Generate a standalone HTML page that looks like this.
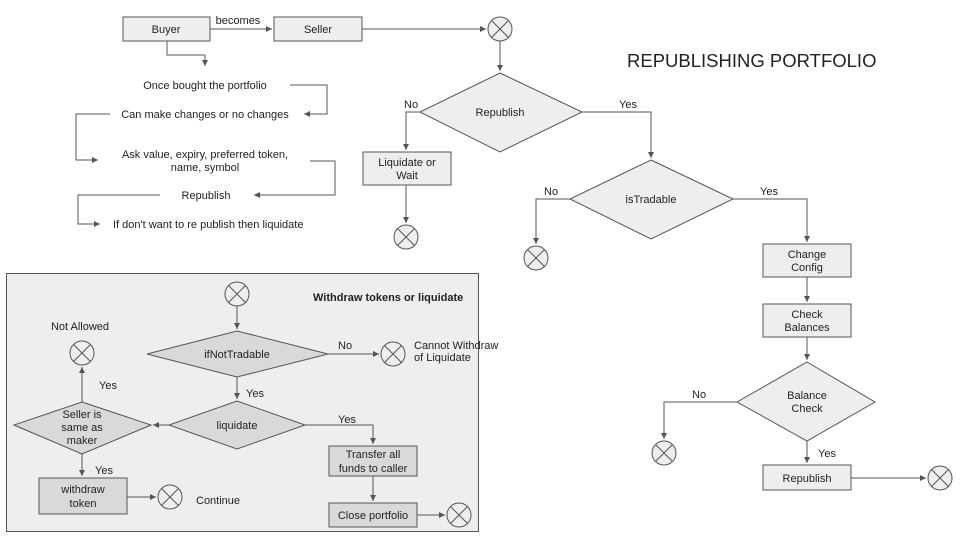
<!DOCTYPE html>
<html><head><meta charset="utf-8"><style>
html,body{margin:0;padding:0;background:#fff;width:960px;height:540px;overflow:hidden}
svg{display:block}
text{font-family:"Liberation Sans",Arial,sans-serif;font-size:11px;fill:#222}
</style></head><body>
<svg width="960" height="540" viewBox="0 0 960 540" xmlns="http://www.w3.org/2000/svg">
<defs>
<marker id="a" markerWidth="8" markerHeight="8" refX="6" refY="3" orient="auto" markerUnits="userSpaceOnUse"><path d="M0,0 L6,3 L0,6 z" fill="#555"/></marker>
<g id="c"><circle r="12" fill="#eee" stroke="#555" stroke-width="1"/><path d="M-8.5,-8.5L8.5,8.5M8.5,-8.5L-8.5,8.5" stroke="#555" stroke-width="1"/></g>
</defs>
<g fill="none" stroke="#555" stroke-width="1">
<path d="M210,29H272" marker-end="url(#a)"/>
<path d="M362,29H486" marker-end="url(#a)"/>
<path d="M167,41V55H205V66" marker-end="url(#a)"/>
<path d="M290,85H327V114H304" marker-end="url(#a)"/>
<path d="M110,114H76V160H98" marker-end="url(#a)"/>
<path d="M310,161H335V195H254" marker-end="url(#a)"/>
<path d="M160,195H78V224H100" marker-end="url(#a)"/>
<path d="M500,41V71" marker-end="url(#a)"/>
<path d="M420,112H406V150" marker-end="url(#a)"/>
<path d="M406,185V223" marker-end="url(#a)"/>
<path d="M582,112H651V158" marker-end="url(#a)"/>
<path d="M570,199H536V244" marker-end="url(#a)"/>
<path d="M733,199H807V242" marker-end="url(#a)"/>
<path d="M807,277V302" marker-end="url(#a)"/>
<path d="M807,337V360" marker-end="url(#a)"/>
<path d="M737,402H664V439" marker-end="url(#a)"/>
<path d="M807,441V463" marker-end="url(#a)"/>
<path d="M851,478H926" marker-end="url(#a)"/>
</g>
<rect x="123" y="17" width="87" height="24" fill="#eee" stroke="#555"/>
<rect x="274" y="17" width="88" height="24" fill="#eee" stroke="#555"/>
<rect x="363" y="152" width="88" height="33" fill="#eee" stroke="#555"/>
<rect x="763" y="244" width="88" height="33" fill="#eee" stroke="#555"/>
<rect x="763" y="304" width="88" height="33" fill="#eee" stroke="#555"/>
<rect x="763" y="465" width="88" height="25" fill="#eee" stroke="#555"/>
<polygon points="500,73 582,112 500,152 420,112" fill="#eee" stroke="#555"/>
<polygon points="651,160 733,199 651,239 570,199" fill="#eee" stroke="#555"/>
<polygon points="807,362 875,402 807,441 737,402" fill="#eee" stroke="#555"/>
<use href="#c" x="500" y="29"/><use href="#c" x="406" y="237"/><use href="#c" x="536" y="258"/><use href="#c" x="664" y="453"/><use href="#c" x="940" y="478"/>
<g text-anchor="middle">
<text x="166" y="33">Buyer</text><text x="318" y="33">Seller</text><text x="238" y="24">becomes</text>
<text x="205" y="89">Once bought the portfolio</text>
<text x="205" y="118">Can make changes or no changes</text>
<text x="205" y="158">Ask value, expiry, preferred token,</text><text x="205" y="171">name, symbol</text>
<text x="206" y="199">Republish</text>
<text x="500" y="116">Republish</text>
<text x="407" y="166">Liquidate or</text><text x="407" y="179">Wait</text>
<text x="651" y="203">isTradable</text>
<text x="807" y="258">Change</text><text x="807" y="271">Config</text>
<text x="807" y="318">Check</text><text x="807" y="331">Balances</text>
<text x="807" y="399">Balance</text><text x="807" y="412">Check</text>
<text x="807" y="482">Republish</text>
</g>
<text x="113" y="228">If don't want to re publish then liquidate</text>
<text x="404" y="108">No</text><text x="619" y="108">Yes</text>
<text x="544" y="195">No</text><text x="760" y="195">Yes</text>
<text x="692" y="398">No</text><text x="818" y="457">Yes</text>
<text x="627" y="67" style="font-size:18.5px">REPUBLISHING PORTFOLIO</text>
<rect x="6.5" y="273.5" width="472" height="258" fill="#eee" stroke="#555"/>
<g fill="none" stroke="#555" stroke-width="1">
<path d="M237,306V329" marker-end="url(#a)"/>
<path d="M328,354H379" marker-end="url(#a)"/>
<path d="M237,377V399" marker-end="url(#a)"/>
<path d="M169,425H153" marker-end="url(#a)"/>
<path d="M82,402V367" marker-end="url(#a)"/>
<path d="M82,454V476" marker-end="url(#a)"/>
<path d="M127,497H156" marker-end="url(#a)"/>
<path d="M305,425H373V444" marker-end="url(#a)"/>
<path d="M373,476V501" marker-end="url(#a)"/>
<path d="M417,515H445" marker-end="url(#a)"/>
</g>
<polygon points="237,331 328,354 237,377 147,354" fill="#d9d9d9" stroke="#555"/>
<polygon points="237,401 305,425 237,449 169,425" fill="#d9d9d9" stroke="#555"/>
<polygon points="82,402 151,425 82,454 14,425" fill="#d9d9d9" stroke="#555"/>
<rect x="39" y="478" width="88" height="36" fill="#d9d9d9" stroke="#555"/>
<rect x="329" y="446" width="88" height="30" fill="#d9d9d9" stroke="#555"/>
<rect x="329" y="503" width="88" height="24" fill="#d9d9d9" stroke="#555"/>
<use href="#c" x="237" y="294"/><use href="#c" x="393" y="354"/><use href="#c" x="82" y="353"/><use href="#c" x="170" y="497"/><use href="#c" x="459" y="515"/>
<g text-anchor="middle">
<text x="237" y="358">ifNotTradable</text>
<text x="237" y="429">liquidate</text>
<text x="82" y="418">Seller is</text><text x="82" y="431">same as</text><text x="82" y="444">maker</text>
<text x="83" y="493">withdraw</text><text x="83" y="507">token</text>
<text x="373" y="458">Transfer all</text><text x="373" y="472">funds to caller</text>
<text x="373" y="519">Close portfolio</text>
<text x="80" y="330">Not Allowed</text>
</g>
<text x="313" y="301" style="font-weight:bold">Withdraw tokens or liquidate</text>
<text x="338" y="349">No</text>
<text x="414" y="349">Cannot Withdraw</text><text x="414" y="361">of Liquidate</text>
<text x="99" y="389">Yes</text><text x="246" y="397">Yes</text><text x="338" y="423">Yes</text><text x="95" y="474">Yes</text>
<text x="196" y="504">Continue</text>
</svg>
</body></html>
